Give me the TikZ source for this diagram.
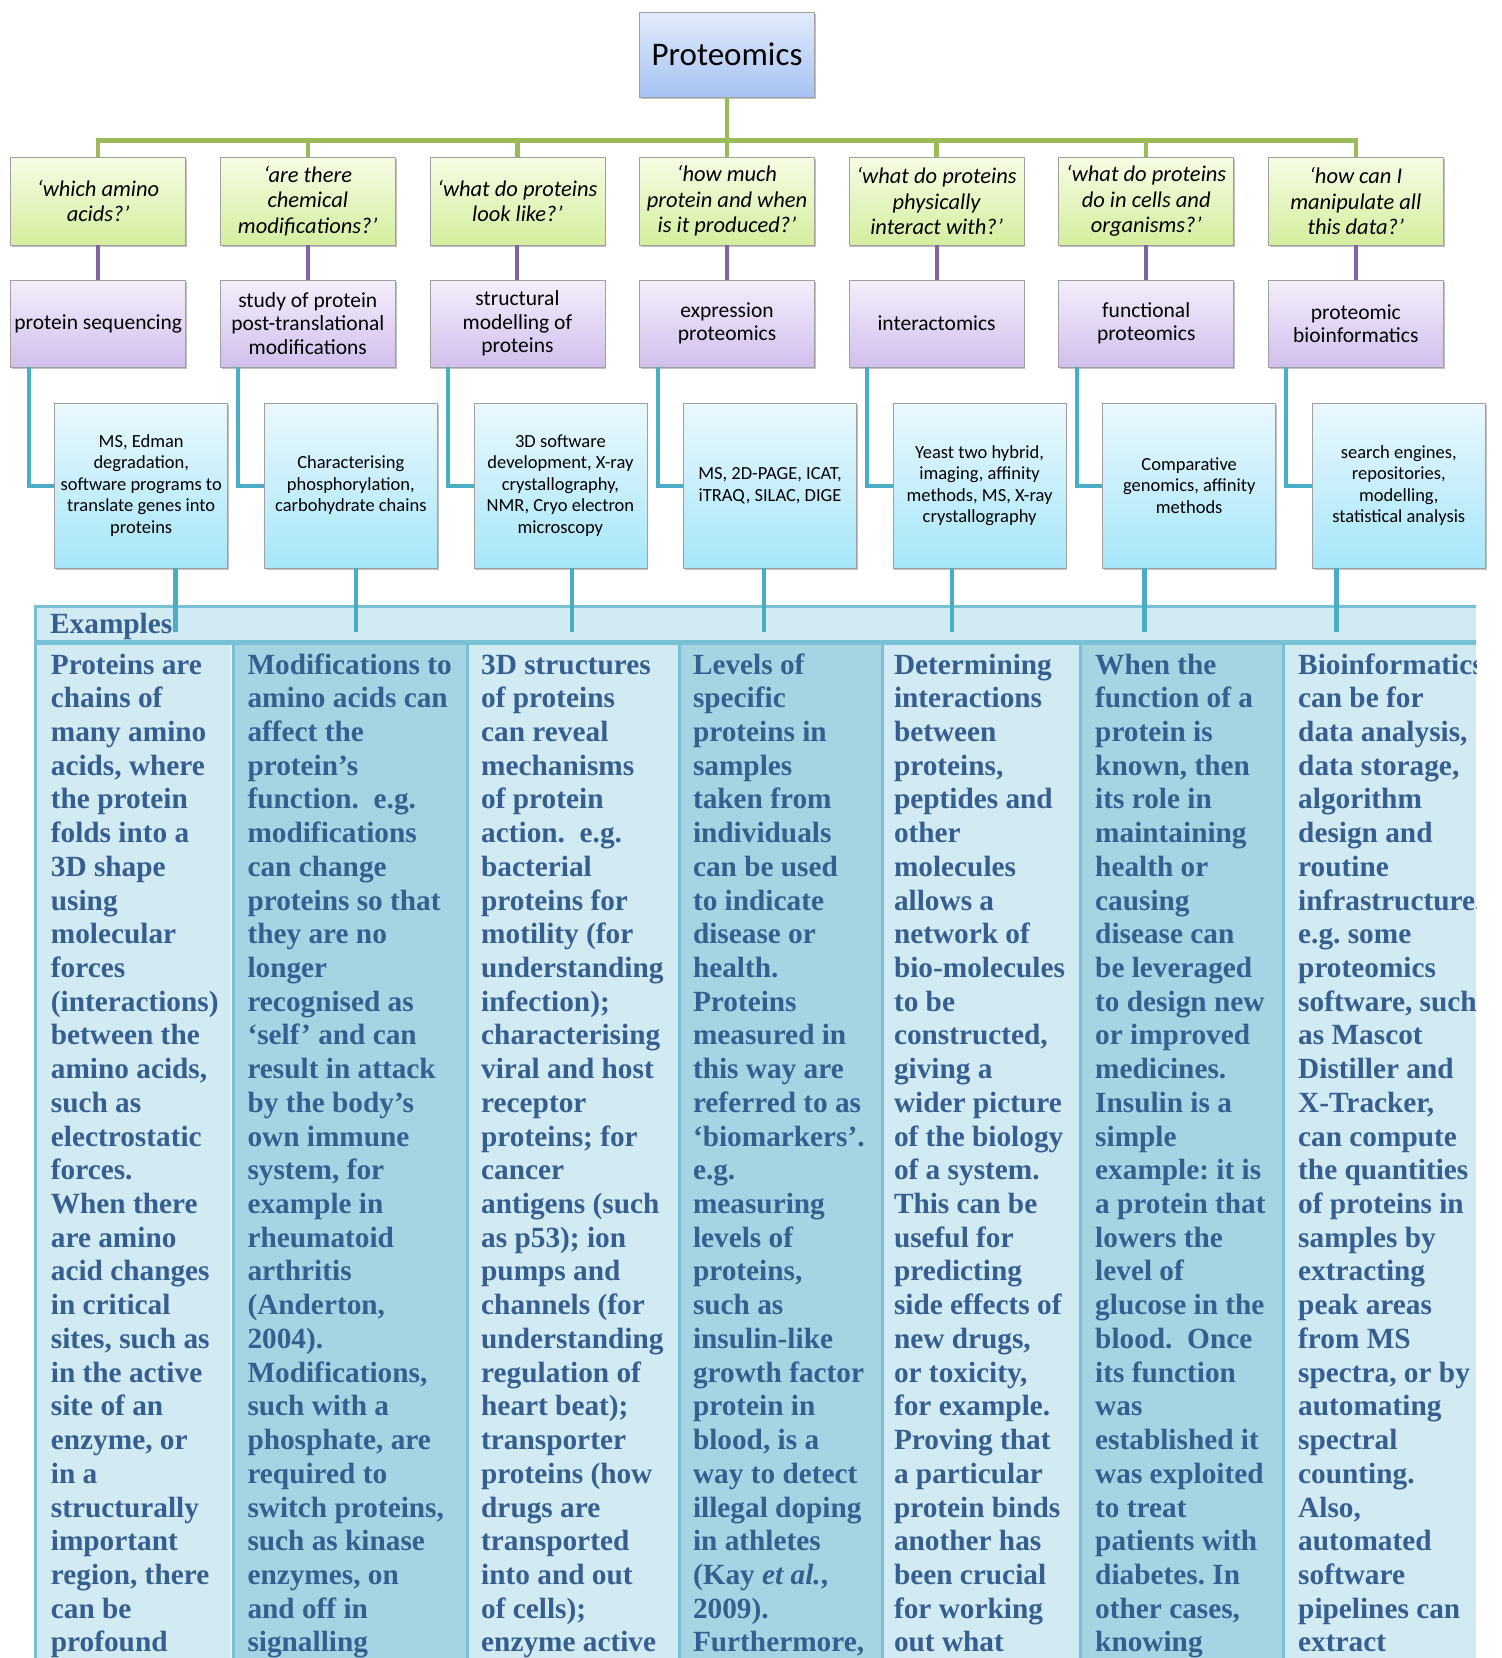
\documentclass[tikz,border=0pt]{standalone}
\usepackage{fontspec}
\setmainfont{Liberation Serif}
\newfontfamily\calfont{Carlito}
\usetikzlibrary{shadows,shadings}
\definecolor{tabtext}{HTML}{365F91}
\definecolor{lightfill}{HTML}{D2EAF1}
\definecolor{darkfill}{HTML}{A5D5E2}
\definecolor{tabborder}{HTML}{78C0D4}
\definecolor{lblue}{HTML}{4BACC6}
\definecolor{lgreen}{HTML}{9BBB59}
\definecolor{lpurple}{HTML}{8064A2}
\definecolor{boxborder}{HTML}{A0A0A0}
\definecolor{topT}{HTML}{E2EBFB}
\definecolor{topB}{HTML}{A6C2F3}
\definecolor{qT}{HTML}{F6FCE4}
\definecolor{qB}{HTML}{D4EE9E}
\definecolor{fT}{HTML}{F4EEFB}
\definecolor{fB}{HTML}{D1BFEC}
\definecolor{mT}{HTML}{EAF8FD}
\definecolor{mB}{HTML}{A6E6F8}
\tikzset{
  box/.style={draw=boxborder, line width=0.8pt, minimum width=175pt, align=center, inner sep=0pt,
    drop shadow={shadow xshift=1.2pt, shadow yshift=-2.4pt, opacity=0.35, fill=black!70}},
  topbox/.style={box, minimum height=85pt, top color=topT, bottom color=topB,
    font=\calfont\fontsize{33}{40}\selectfont},
  qbox/.style={box, minimum height=88pt, top color=qT, bottom color=qB,
    font=\calfont\itshape\fontsize{22.5}{25.4}\selectfont},
  fldbox/.style={box, minimum height=87pt, top color=fT, bottom color=fB,
    font=\calfont\fontsize{21.5}{23.3}\selectfont},
  mbox/.style={box, minimum width=173pt, minimum height=165pt, top color=mT, bottom color=mB,
    font=\calfont\fontsize{18.5}{21.5}\selectfont},
  gline/.style={draw=lgreen, line width=4.5pt},
  pline/.style={draw=lpurple, line width=4pt},
  bline/.style={draw=lblue, line width=4pt},
  coltext/.style={anchor=base west, inner sep=0pt, text=tabtext,
    font=\bfseries\frenchspacing\fontsize{29.3}{33.72}\selectfont},
}
\newcommand{\coltxt}[1]{\parbox[t]{400pt}{\raggedright\frenchspacing #1}}
\begin{document}
\begin{tikzpicture}[x=1pt,y=-1pt]
\useasboundingbox (0,0) rectangle (1502,1658);

% ---------- table ----------
\begin{scope}
\clip (0,0) rectangle (1476,1658);
\fill[lightfill] (35,605) rectangle (1476,1700);
\fill[darkfill] (234,643) rectangle (467,1700);
\fill[darkfill] (679,643) rectangle (881,1700);
\fill[darkfill] (1081,643) rectangle (1283,1700);
\fill[tabborder] (34,604.8) rectangle (1476,607.6);
\fill[tabborder] (34,640) rectangle (1476,645.2);
\fill[tabborder] (33.6,605) rectangle (37,1700);
\fill[white] (230.8,645.2) rectangle (232.3,1700);
\fill[tabborder] (232.3,645) rectangle (235.4,1700);
\fill[tabborder] (466,645) rectangle (469.3,1700);
\fill[tabborder] (678,645) rectangle (681,1700);
\fill[tabborder] (880.5,645) rectangle (883.5,1700);
\fill[tabborder] (1079,645) rectangle (1082,1700);
\fill[tabborder] (1282,645) rectangle (1285,1700);

\node[coltext] (ex) at (50,633.3) {Examples};

\node[coltext] (c1) at (50.7,674) {\coltxt{Proteins are\\chains of\\many amino\\acids, where\\the protein\\folds into a\\3D shape\\using\\molecular\\forces\\(interactions)\\between the\\amino acids,\\such as\\electrostatic\\forces.\\When there\\are amino\\acid changes\\in critical\\sites, such as\\in the active\\site of an\\enzyme, or\\in a\\structurally\\important\\region, there\\can be\\profound}};

\node[coltext] (c2) at (247.3,674) {\coltxt{Modifications to\\amino acids can\\affect the\\protein’s\\function.\ \ e.g.\\modifications\\can change\\proteins so that\\they are no\\longer\\recognised as\\‘self’ and can\\result in attack\\by the body’s\\own immune\\system, for\\example in\\rheumatoid\\arthritis\\(Anderton,\\2004).\\Modifications,\\such with a\\phosphate, are\\required to\\switch proteins,\\such as kinase\\enzymes, on\\and off in\\signalling}};

\node[coltext] (c3) at (481,674) {\coltxt{3D structures\\of proteins\\can reveal\\mechanisms\\of protein\\action.\ \ e.g.\\bacterial\\proteins for\\motility (for\\understanding\\infection);\\characterising\\viral and host\\receptor\\proteins; for\\cancer\\antigens (such\\as p53); ion\\pumps and\\channels (for\\understanding\\regulation of\\heart beat);\\transporter\\proteins (how\\drugs are\\transported\\into and out\\of cells);\\enzyme active}};

\node[coltext] (c4) at (692.8,674) {\coltxt{Levels of\\specific\\proteins in\\samples\\taken from\\individuals\\can be used\\to indicate\\disease or\\health.\\Proteins\\measured in\\this way are\\referred to as\\‘biomarkers’.\\e.g.\\measuring\\levels of\\proteins,\\such as\\insulin-like\\growth factor\\protein in\\blood, is a\\way to detect\\illegal doping\\in athletes\\(Kay \textit{et al.},\\2009).\\Furthermore,}};

\node[coltext] (c5) at (893.8,674) {\coltxt{Determining\\interactions\\between\\proteins,\\peptides and\\other\\molecules\\allows a\\network of\\bio-molecules\\to be\\constructed,\\giving a\\wider picture\\of the biology\\of a system.\\This can be\\useful for\\predicting\\side effects of\\new drugs,\\or toxicity,\\for example.\\Proving that\\a particular\\protein binds\\another has\\been crucial\\for working\\out what}};

\node[coltext] (c6) at (1095,674) {\coltxt{When the\\function of a\\protein is\\known, then\\its role in\\maintaining\\health or\\causing\\disease can\\be leveraged\\to design new\\or improved\\medicines.\\Insulin is a\\simple\\example: it is\\a protein that\\lowers the\\level of\\glucose in the\\blood.\ \ Once\\its function\\was\\established it\\was exploited\\to treat\\patients with\\diabetes. In\\other cases,\\knowing}};

\node[coltext] (c7) at (1298,674) {\coltxt{Bioinformatics\\can be for\\data analysis,\\data storage,\\algorithm\\design and\\routine\\infrastructure.\\e.g. some\\proteomics\\software, such\\as Mascot\\Distiller and\\X-Tracker,\\can compute\\the quantities\\of proteins in\\samples by\\extracting\\peak areas\\from MS\\spectra, or by\\automating\\spectral\\counting.\\Also,\\automated\\software\\pipelines can\\extract}};
\end{scope}

% ---------- boxes ----------
\node[topbox] (top) at (727,54.5) {Proteomics};

\node[qbox] (q1) at (98.2,201) {‘which amino\\acids?’};
\node[qbox] (q2) at (307.8,201) {‘are there\\chemical\\modifications?’};
\node[qbox] (q3) at (517.4,201) {‘what do proteins\\look like?’};
\node[qbox] (q4) at (727,201) {‘how much\\protein and when\\is it produced?’};
\node[qbox] (q5) at (936.6,201) {‘what do proteins\\physically\\interact with?’};
\node[qbox] (q6) at (1146.2,201) {‘what do proteins\\do in cells and\\organisms?’};
\node[qbox] (q7) at (1355.8,201) {‘how can I\\manipulate all\\this data?’};

\node[fldbox] (f1) at (98.2,323.5) {protein sequencing};
\node[fldbox] (f2) at (307.8,323.5) {study of protein\\post-translational\\modifications};
\node[fldbox] (f3) at (517.4,323.5) {structural\\modelling of\\proteins};
\node[fldbox] (f4) at (727,323.5) {expression\\proteomics};
\node[fldbox] (f5) at (936.6,323.5) {interactomics};
\node[fldbox] (f6) at (1146.2,323.5) {functional\\proteomics};
\node[fldbox] (f7) at (1355.8,323.5) {proteomic\\bioinformatics};

\node[mbox] (m1) at (141.2,485.5) {MS, Edman\\degradation,\\software programs to\\translate genes into\\proteins};
\node[mbox] (m2) at (350.8,485.5) {Characterising\\phosphorylation,\\carbohydrate chains};
\node[mbox] (m3) at (560.4,485.5) {3D software\\development, X-ray\\crystallography,\\NMR, Cryo electron\\microscopy};
\node[mbox] (m4) at (770,485.5) {MS, 2D-PAGE, ICAT,\\iTRAQ, SILAC, DIGE};
\node[mbox] (m5) at (979.6,485.5) {Yeast two hybrid,\\imaging, affinity\\methods, MS, X-ray\\crystallography};
\node[mbox] (m6) at (1189.2,485.5) {Comparative\\genomics, affinity\\methods};
\node[mbox] (m7) at (1398.8,485.5) {search engines,\\repositories,\\modelling,\\statistical analysis};

% ---------- connectors ----------
\coordinate (gy) at (0,140.5);
\draw[gline] (top.south) -- (q4.north);
\draw[gline] (q1.north) |- (q7.north |- gy) -- (q7.north);
\foreach \n in {q2,q3,q5,q6} \draw[gline] (\n.north) -- (\n.north |- gy);

\foreach \i in {1,...,7} {
  \draw[pline] (q\i.south) -- (f\i.north);
  \draw[bline] ([xshift=18.4pt]f\i.south west) |- (m\i.west);
}

\coordinate (t1) at (175.5,631.5);
\coordinate (t2) at (356,631.5);
\coordinate (t3) at (572,631.5);
\coordinate (t4) at (764,631.5);
\coordinate (t5) at (952,631.5);
\coordinate (t6) at (1144.5,631.5);
\coordinate (t7) at (1336.5,631.5);
\foreach \i in {1,...,7} \draw[bline, line width=4.3pt] (m\i.south -| t\i) -- (t\i);
\end{tikzpicture}
\end{document}
